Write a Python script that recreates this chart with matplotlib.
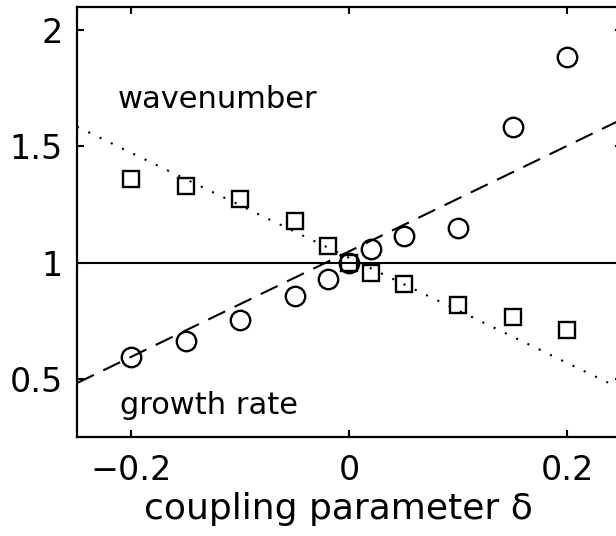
import matplotlib
matplotlib.use("Agg")
import matplotlib.pyplot as plt

# ----------------------------
# data
# ----------------------------
delta = [-0.2, -0.15, -0.1, -0.05, -0.02, 0.0, 0.02, 0.05, 0.1, 0.15, 0.2]
growth = [0.595, 0.665, 0.755, 0.855, 0.93, 1.0, 1.06, 1.115, 1.15, 1.585, 1.885]
wavenum = [1.36, 1.33, 1.275, 1.18, 1.07, 1.0, 0.955, 0.91, 0.82, 0.765, 0.71]

line_x = [-0.25, 0.25]
growth_fit = [0.482, 1.617]
wavenum_fit = [1.585, 0.455]
ref_level = [1.0, 1.0]

xticks = [-0.2, 0.0, 0.2]
xticklabels = ["\u22120.2", "0", "0.2"]
yticks = [0.5, 1.0, 1.5, 2.0]
yticklabels = ["0.5", "1", "1.5", "2"]

plt.rcParams['font.family'] = ['DejaVu Sans']

fig = plt.figure(figsize=(6.16, 5.36), dpi=100)
# axes runs past the right edge, the reference is cropped there
ax = fig.add_axes([0.125, 0.1847, 0.8847, 0.8022])

ax.plot(delta, growth, 'o', ms=14, mfc='none', mec='black', mew=1.7)
ax.plot(delta, wavenum, 's', ms=11, mfc='none', mec='black', mew=1.7)

ax.plot(line_x, ref_level, color='black', lw=1.5)
ax.plot(line_x, growth_fit, color='black', lw=1.5, dashes=(9, 5))
ax.plot(line_x, wavenum_fit, color='black', lw=1.5, dashes=(1, 5))

ax.text(-0.213, 1.70, "wavenumber", fontsize=22, va='center', ha='left')
ax.text(-0.211, 0.385, "growth rate", fontsize=22, va='center', ha='left')

ax.set_xlim(-0.25, 0.25)
ax.set_ylim(0.25, 2.1)
ax.set_xticks(xticks)
ax.set_xticklabels(xticklabels)
ax.set_yticks(yticks)
ax.set_yticklabels(yticklabels)
ax.tick_params(direction='in', length=5, width=1.5, top=True, right=True,
               labelsize=24)
ax.tick_params(axis='x', pad=12)
ax.tick_params(axis='y', pad=10)
for s in ax.spines.values():
    s.set_linewidth(1.6)

ax.set_xlabel("coupling parameter \u03b4", fontsize=26, labelpad=3)
ax.xaxis.set_label_coords(0.48, -0.128)

fig.savefig("out.png", dpi=100)
